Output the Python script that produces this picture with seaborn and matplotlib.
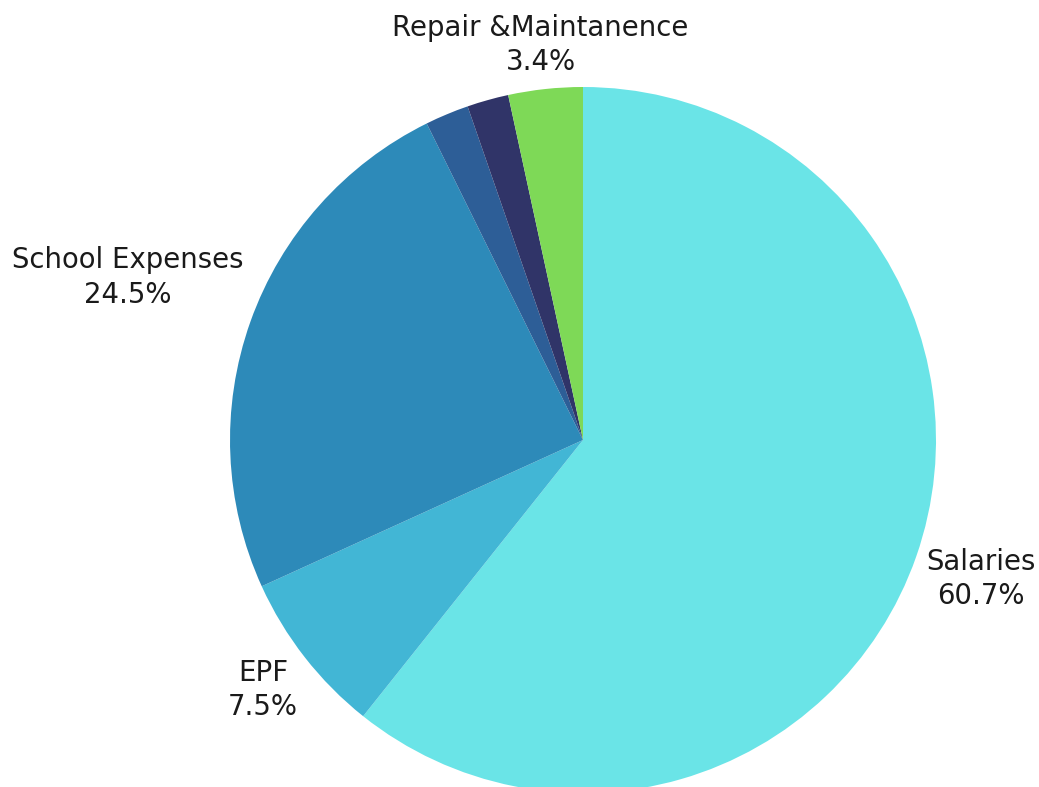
import numpy as np
import matplotlib
matplotlib.use("Agg")
import matplotlib.pyplot as plt
import seaborn as sns

# parts du budget (sens horaire depuis le haut)
categories = ["Salaries", "EPF", "School Expenses", "Other Expenses", "Utilities", "Repair &Maintanence"]
values = [60.7, 7.5, 24.5, 2.0, 1.9, 3.4]
show_label = [True, True, True, False, False, True]
label_dist = [1.195, 1.15, 1.37, 0, 0, 1.125]
colors = ["#6ae4e7", "#42b6d5", "#2d8ab9", "#2d5e97", "#303468", "#7ed957"]

sns.set_theme(style="white")
plt.rcParams["font.family"] = ["DejaVu Sans"]

fig = plt.figure(figsize=(10.39, 7.87), dpi=100)
ax = fig.add_axes([0, 0, 1, 1])

wedges, _ = ax.pie(values, colors=colors, startangle=90, counterclock=False,
                   radius=1, wedgeprops=dict(linewidth=0))

for w, name, v, show, d in zip(wedges, categories, values, show_label, label_dist):
    if not show:
        continue
    mid = np.deg2rad((w.theta1 + w.theta2) / 2)
    ax.text(d * np.cos(mid), d * np.sin(mid), f"{name}\n{v:.1f}%",
            ha="center", va="center", fontsize=19.8, color="#1a1a1a", linespacing=1.3)

ax.set_aspect("auto")
ax.set_xlim(-583 / 353, (1039 - 583) / 353)
ax.set_ylim(-(787 - 440) / 353, 440 / 353)
ax.axis("off")

fig.savefig("out.png", dpi=100)
